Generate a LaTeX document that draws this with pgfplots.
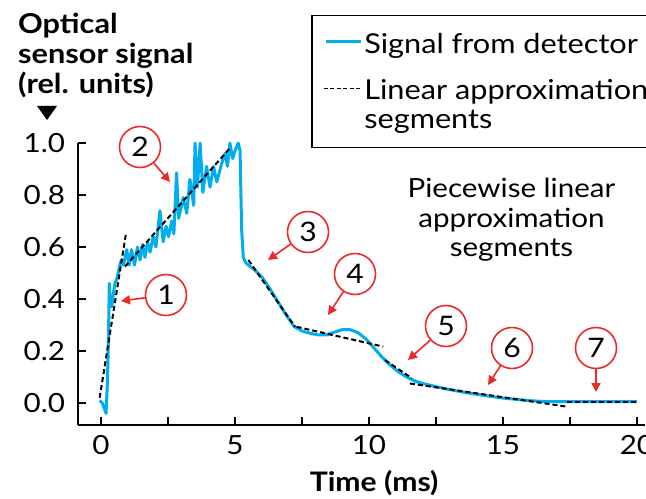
\documentclass[border=0pt]{standalone}
\usepackage{pgfplots}
\pgfplotsset{compat=1.18}
\usepackage{fontspec}
\setmainfont{Lato}[FakeStretch=1.12]
\usetikzlibrary{arrows.meta}
\definecolor{sig}{RGB}{0,174,239}
\definecolor{ann}{RGB}{237,40,40}
\pgfplotsset{
  leg sig/.style={legend image code/.code={\draw[##1] (0bp,2.5bp) -- (35bp,2.5bp);}},
  leg dash/.style={legend image code/.code={\draw[##1, line width=1.6bp, dash pattern=on 4bp off 2.5bp] (-2bp,16.5bp) -- (35bp,16.5bp);}},
}
\begin{document}
\begin{tikzpicture}[x=1bp,y=1bp]
\useasboundingbox (0,0) rectangle (646,-499);
\clip (0,0) rectangle (646,-499);
\begin{axis}[
  at={(78.2bp,-425.1bp)}, anchor=south west,
  scale only axis, width=566.8bp, height=282.1bp,
  xmin=-0.85, xmax=20.3, ymin=-0.085, ymax=1.0,
  axis x line*=bottom, axis y line*=left,
  axis line style={line width=1.6bp, -},
  tick align=inside, major tick length=8bp,
  tick style={line width=1.4bp, black},
  xtick={0,2.5,5,7.5,10,12.5,15,17.5,20},
  xticklabels={0,,5,,10,,15,,20},
  ytick={0,0.2,0.4,0.6,0.8,1.0},
  yticklabel style={/pgf/number format/fixed, /pgf/number format/fixed zerofill, /pgf/number format/precision=1, anchor=east, inner sep=0pt, xshift=-13bp},
  xticklabel style={anchor=north, inner sep=0pt, yshift=-10bp},
  /pgf/number format/assume math mode=true,
  ticklabel style={font=\fontsize{26.5}{26}\selectfont},
  xlabel={\bfseries Time (ms)},
  xlabel style={at={(axis description cs:0.522,0)}, anchor=base, yshift=-66bp, font=\fontsize{27}{27}\selectfont},
  clip=false,
  legend style={at={(axis description cs:0.4125,1.453)}, anchor=north west, draw=black, line width=1.2bp,
    font=\fontsize{27.5}{28.5}\selectfont, cells={anchor=west, align=left, inner ysep=0pt},
    inner xsep=11bp, inner ysep=16bp, row sep=21bp, outer sep=0pt},
]
\addplot[sig, line width=3bp, line join=round, leg sig] coordinates {
(-0.05,0.01) (0.05,0.0) (0.12,-0.02) (0.19,-0.04) (0.24,0.08) (0.28,0.25) (0.31,0.46) (0.35,0.38)
(0.40,0.37) (0.45,0.41) (0.52,0.46) (0.60,0.48) (0.68,0.52) (0.76,0.55) (0.84,0.53) (0.96,0.59)
(1.05,0.53) (1.14,0.59) (1.25,0.53) (1.36,0.60) (1.46,0.55) (1.55,0.61) (1.64,0.56) (1.74,0.62)
(1.83,0.58) (1.95,0.64) (2.05,0.60) (2.2,0.74) (2.32,0.62) (2.43,0.68) (2.52,0.64) (2.64,0.70) (2.72,0.65)
(2.82,0.885) (2.9,0.71) (3.07,0.79) (3.2,0.73) (3.32,0.86) (3.46,0.76) (3.51,1.0) (3.6,0.83)
(3.7,1.0) (3.8,0.81) (3.94,0.91) (4.07,0.83) (4.2,0.91) (4.32,0.85) (4.5,0.92) (4.63,0.96)
(4.72,0.91) (4.81,1.0) (4.91,0.94) (5.0,0.97) (5.12,1.0) (5.19,0.97) (5.21,0.86) (5.25,0.665)
(5.31,0.56) (5.4,0.54) (5.5,0.53) (5.7,0.515) (5.85,0.50) (6.0,0.485) (6.3,0.44) (6.6,0.39)
(6.9,0.34) (7.2,0.295) (7.5,0.277) (7.8,0.268) (8.1,0.262) (8.4,0.262) (8.7,0.272) (9.0,0.282)
(9.3,0.282) (9.6,0.27) (9.9,0.245) (10.2,0.21) (10.5,0.175) (10.8,0.145) (11.1,0.12) (11.4,0.10)
(11.7,0.085) (12.0,0.075) (12.5,0.063) (13.0,0.052) (13.5,0.042) (14.0,0.034) (14.5,0.026)
(15.0,0.019) (15.5,0.014) (16.0,0.009) (16.5,0.006) (17.0,0.005) (17.5,0.005) (18,0.005)
(19,0.005) (20,0.005)
};
\addlegendentry{Signal from detector}
\addplot[black, line width=2bp, dash pattern=on 5bp off 3bp, leg dash] coordinates {(-0.05,0.02) (0.93,0.65)};
\addlegendentry{Linear approximation\\segments}
\addplot[black, line width=2bp, dash pattern=on 5bp off 3bp, forget plot] coordinates {(0.9,0.525) (4.81,0.98)};
\addplot[black, line width=2bp, dash pattern=on 5bp off 3bp, forget plot] coordinates {(5.5,0.55) (7.24,0.293)};
\addplot[black, line width=2bp, dash pattern=on 5bp off 3bp, forget plot] coordinates {(7.3,0.293) (10.53,0.217)};
\addplot[black, line width=2bp, dash pattern=on 5bp off 3bp, forget plot] coordinates {(10.6,0.165) (11.6,0.095)};
\addplot[black, line width=2bp, dash pattern=on 5bp off 3bp, forget plot] coordinates {(11.53,0.075) (17.38,-0.014)};
\addplot[black, line width=2bp, dash pattern=on 5bp off 3bp, forget plot] coordinates {(17.38,0.005) (20,0.005)};
\end{axis}
% y axis title
\begin{scope}[font=\fontsize{27.5}{28}\selectfont\bfseries]
\node[anchor=base west, inner sep=0pt] at (18,-33.3) {Optical};
\node[anchor=base west, inner sep=0pt] at (18,-63.3) {sensor signal};
\node[anchor=base west, inner sep=0pt] at (18,-94) {(rel. units)};
\end{scope}
\fill (37,-106) -- (57,-106) -- (47,-120) -- cycle;
% annotation text
\begin{scope}[font=\fontsize{26.5}{26}\selectfont]
\node[anchor=base, inner sep=0pt] at (511.5,-198) {Piecewise linear};
\node[anchor=base, inner sep=0pt] at (511.5,-228) {approximation};
\node[anchor=base, inner sep=0pt] at (511.5,-256.7) {segments};
\end{scope}
% numbered circles
\begin{scope}[every node/.style={circle, draw=ann, line width=1.6bp, minimum size=41bp, inner sep=0pt, font=\fontsize{27}{27}\selectfont},
  arr/.style={ann, line width=1.6bp, -{Triangle[length=9bp,width=9bp]}}]
\node (c1) at (166,-295) {1};
\node (c2) at (140,-147) {2};
\node (c3) at (308,-232) {3};
\node (c4) at (355,-274) {4};
\node (c5) at (446,-326) {5};
\node (c6) at (512,-348) {6};
\node (c7) at (596,-348) {7};
\draw[arr] (c1) -- (121,-301);
\draw[arr] (c2) -- (170,-182);
\draw[arr] (c3) -- (268,-260);
\draw[arr] (c4) -- (328,-315);
\draw[arr] (c5) -- (408,-360);
\draw[arr] (c6) -- (488,-385);
\draw[arr] (c7) -- (596,-392);
\end{scope}
\end{tikzpicture}
\end{document}
